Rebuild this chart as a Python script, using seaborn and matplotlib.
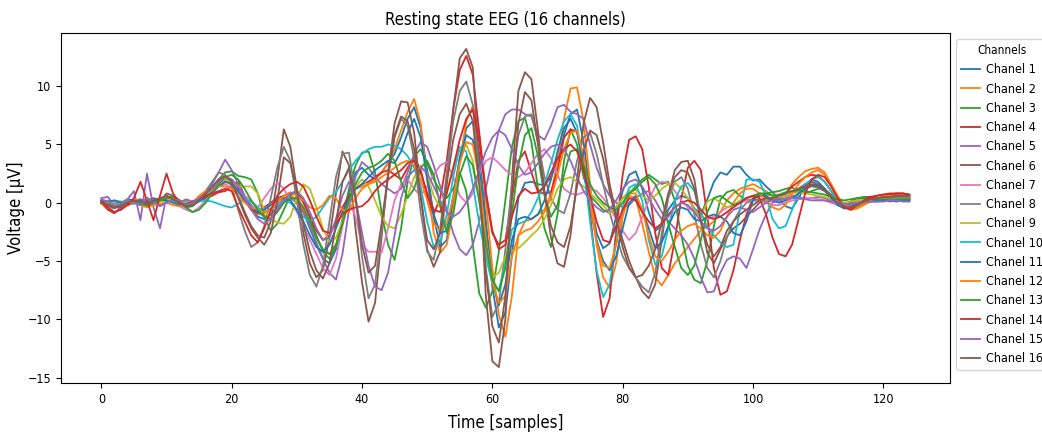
import numpy as np
import pandas as pd
import matplotlib
matplotlib.use("Agg")
import matplotlib.pyplot as plt
import seaborn as sns

plt.rcParams["font.family"] = ["DejaVu Sans"]
plt.rcParams["font.stretch"] = "condensed"

# ---- recorded voltages (µV), one list per channel, samples 0..124 ----
ch1 = [0.2, 0.1, -0.1, 0.0, 0.3, 0.2, -0.2, 0.1, 0.4, 0.2,
       0.5, 0.3, 0.0, -0.3, -0.2, 0.1, 0.4, 1.0, 1.8, 2.2,
       2.0, 1.2, 0.2, -0.6, -1.2, -1.4, -1.0, -0.4, 0.3, 0.6,
       0.2, -0.8, -2.2, -3.6, -4.8, -5.2, -4.0, -1.6, 0.8, 2.6,
       3.0, 2.4, 2.0, 2.6, 3.4, 4.2, 5.6, 7.2, 8.2, 6.4,
       2.8, -1.2, -3.8, -3.2, 0.2, 3.8, 6.4, 7.0, 4.2, -1.5,
       -7.2, -10.7, -9.4, -4.5, 0.4, 1.7, 1.8, 1.6, 1.5, 2.2,
       3.6, 5.8, 7.6, 8.0, 5.2, 0.8, -2.6, -3.9, -3.5, -1.2,
       1.0, 2.4, 2.7, 1.2, -0.8, -2.4, -2.0, -0.6, 0.2, 0.6,
       0.4, -0.5, -1.0, 0.3, 1.8, 2.6, 2.4, 3.1, 3.1, 2.4,
       1.9, 2.0, 1.4, 0.9, 0.3, -0.3, -0.5, 0.4, 1.4, 2.0,
       1.8, 1.2, 0.5, -0.2, -0.4, -0.3, 0.0, 0.1, 0.2, 0.2,
       0.3, 0.2, 0.3, 0.2, 0.3]
ch2 = [0.0, -0.1, 0.2, 0.1, -0.2, 0.0, 0.3, 0.1, -0.1, 0.2,
       0.3, 0.4, 0.2, 0.0, -0.2, 0.3, 0.8, 1.2, 1.6, 1.9,
       1.7, 1.0, 0.1, -0.6, -1.0, -0.9, -0.5, -0.1, 0.4, 0.6,
       0.3, -0.6, -1.8, -3.0, -4.0, -4.4, -3.6, -1.8, 0.2, 1.2,
       1.4, 1.6, 2.0, 2.6, 3.4, 4.6, 6.2, 7.8, 8.9, 6.8,
       2.0, -2.6, -4.3, -3.6, -0.6, 3.4, 7.0, 8.3, 5.8, 0.2,
       -5.6, -9.6, -11.5, -8.0, -2.8, -1.6, -1.4, -1.0, -0.6, 0.8,
       3.6, 7.2, 9.8, 9.9, 7.0, 1.6, -3.6, -6.4, -7.3, -5.2,
       -1.2, 0.6, 0.4, -1.8, -4.2, -6.4, -7.1, -6.2, -5.2, -4.5,
       -3.8, -3.1, -2.4, -2.0, -1.6, -0.8, 0.2, 0.8, 1.2, 1.4,
       1.6, 1.3, 1.0, 0.6, 0.4, 0.8, 1.6, 2.2, 2.7, 2.9,
       3.0, 2.6, 1.6, 0.6, -0.2, -0.6, -0.5, -0.2, 0.1, 0.3,
       0.5, 0.6, 0.7, 0.7, 0.6]
ch3 = [0.1, 0.0, -0.2, -0.1, 0.1, 0.2, 0.0, -0.3, -0.1, 0.3,
       0.4, 0.2, -0.2, -0.4, -0.3, 0.2, 0.6, 1.2, 2.0, 2.6,
       2.7, 2.3, 2.2, 2.0, 0.8, -1.2, -2.4, -1.8, -0.6, 0.6,
       1.0, 0.2, -1.2, -2.8, -4.2, -4.8, -3.8, -1.4, 1.2, 3.2,
       4.3, 4.4, 2.6, -0.8, -3.6, -4.9, -2.2, 1.8, 4.0, 4.6,
       3.4, 2.0, 1.0, 0.4, 1.2, 2.6, 1.0, -3.6, -7.8, -9.0,
       -7.6, -4.2, 0.2, 4.8, 7.0, 7.3, 5.2, 1.2, -2.2, -3.8,
       -1.0, 3.6, 6.3, 5.0, 2.2, 0.6, 0.0, -0.6, -0.9, -0.4,
       0.4, 0.8, 1.4, 2.0, 2.4, 2.0, 1.6, 1.8, 0.2, -2.8,
       -5.4, -6.6, -6.9, -5.0, -2.0, 0.3, 0.9, 1.1, 0.6, 0.2,
       0.3, 0.6, 0.8, 0.9, 1.0, 1.2, 1.3, 1.0, 0.8, 1.0,
       1.2, 1.1, 0.7, 0.2, -0.1, 0.1, 0.4, 0.5, 0.5, 0.4,
       0.4, 0.5, 0.5, 0.4, 0.4]
ch4 = [0.0, -0.6, -0.9, -0.4, -0.2, 0.0, 0.1, 0.2, 0.1, 0.3,
       0.2, 0.4, 0.1, -0.2, 0.0, 0.2, 0.4, 0.6, 0.9, 1.0,
       1.4, 1.8, 0.6, -0.6, -0.9, -0.4, 0.0, 0.4, 0.6, 0.8,
       0.9, 0.0, -1.2, -2.4, -3.2, -2.8, -1.6, -0.4, 0.6, 1.2,
       1.6, 1.8, 2.2, 2.6, 2.8, 2.4, 2.0, 3.0, 3.9, 2.8,
       0.6, -1.0, 0.4, 3.6, 8.0, 11.4, 12.6, 11.0, 6.0, 0.8,
       -2.6, -3.6, -3.2, 0.4, 3.6, 4.4, 2.6, 0.9, 0.8, 0.9,
       2.8, 5.6, 6.3, 6.1, 3.8, -1.0, -6.0, -9.8, -8.2, -2.4,
       2.4, 5.4, 5.7, 4.6, 1.4, -2.6, -5.6, -6.2, -3.2, 0.4,
       3.0, 3.6, 2.8, -1.2, -5.6, -7.9, -7.6, -5.8, -3.2, -1.0,
       0.4, 0.6, 0.5, 0.2, 0.3, 0.8, 1.4, 1.8, 2.2, 2.4,
       2.3, 1.8, 1.0, 0.2, -0.2, 0.0, 0.2, 0.4, 0.5, 0.6,
       0.7, 0.7, 0.8, 0.8, 0.7]
ch5 = [0.4, 0.5, -0.2, -0.6, 0.3, 1.0, -1.5, 2.5, -0.4, -2.2,
       0.6, 0.2, 0.0, 0.3, 0.1, 0.4, 0.8, 1.6, 2.6, 3.7,
       2.8, 1.6, 0.6, -0.2, -0.8, -1.2, -1.0, -0.4, 0.2, 0.4,
       0.0, -0.8, -2.0, -3.4, -4.8, -6.0, -6.6, -4.4, -0.6, 2.2,
       3.5, 3.0, 2.2, 1.6, 1.2, 0.8, 1.2, 2.6, 4.2, 5.2,
       4.8, 3.2, 1.4, -0.6, -2.6, -4.0, -4.5, -3.6, -1.6, 1.2,
       3.8, 6.2, 7.6, 8.0, 8.0, 7.6, 7.4, 5.8, 5.4, 6.6,
       8.2, 8.4, 7.8, 7.6, 7.2, 5.0, 3.0, 1.6, 0.6, 0.0,
       -0.4, -0.2, 0.4, 0.8, 1.0, 0.2, -0.8, -1.6, -2.2, -2.8,
       -3.6, -4.8, -6.4, -7.7, -7.6, -6.0, -4.9, -4.6, -4.8, -5.6,
       -4.0, -2.3, -1.0, 0.0, 0.2, 0.4, 0.6, 0.5, 0.3, 0.4,
       0.5, 0.4, 0.2, -0.1, -0.3, -0.4, -0.2, 0.0, 0.1, 0.1,
       0.2, 0.1, 0.2, 0.2, 0.2]
ch6 = [0.1, 0.0, -0.3, -0.4, -0.1, 0.2, 0.0, 0.4, 0.2, 0.1,
       0.8, 0.6, 0.2, -0.2, 0.0, 0.3, 0.6, 1.0, 1.6, 2.0,
       1.8, 0.6, -0.8, -2.0, -2.8, -3.0, -1.6, 2.0, 6.3, 4.8,
       1.2, -2.6, -5.2, -6.4, -5.8, -3.0, 0.8, 4.4, 3.2, -2.2,
       -6.8, -10.2, -8.6, -3.0, 2.6, 6.8, 8.7, 8.6, 6.0, 0.8,
       -4.0, -5.5, -4.2, 1.8, 8.0, 12.4, 13.2, 11.6, 3.0, -8.0,
       -13.6, -14.1, -10.0, 2.0, 9.6, 11.2, 10.6, 6.2, 1.0, -3.0,
       -5.2, -5.5, -2.8, 2.0, 6.8, 9.0, 8.2, 5.2, 1.6, -1.0,
       -3.2, -5.0, -6.4, -7.6, -8.2, -7.0, -3.2, 0.6, 2.8, 3.5,
       3.6, 2.0, -1.6, -4.3, -5.2, -4.0, -2.9, -2.2, -1.8, -1.2,
       -0.6, 0.0, 0.2, 0.4, 0.5, 0.6, 0.8, 1.2, 1.6, 1.8,
       1.6, 1.2, 0.6, 0.0, -0.4, -0.5, -0.3, 0.0, 0.2, 0.3,
       0.4, 0.5, 0.6, 0.6, 0.5]
ch7 = [0.0, 0.2, 0.1, -0.1, 0.0, 0.2, 0.3, -0.2, 0.0, 0.2,
       0.4, 0.1, -0.3, -0.6, -0.8, -0.4, 0.2, 0.8, 1.4, 1.6,
       1.3, 1.0, 0.6, 0.2, -0.4, 0.4, 1.2, 1.7, 1.2, 0.2,
       -0.8, -2.0, -3.2, -4.4, -5.6, -6.2, -4.8, -2.0, 0.2, -1.2,
       -3.6, -4.2, -4.2, -4.3, -2.2, 0.2, 1.6, 2.0, 1.2, 0.6,
       1.4, 2.4, 3.2, 3.5, 2.2, 0.6, 0.0, 0.8, 2.4, 3.6,
       3.9, 3.4, 2.8, 2.4, 2.2, 2.6, 3.4, 4.2, 4.6, 3.8,
       2.4, 1.2, 0.8, 0.7, 0.9, 1.2, 1.0, 0.4, -0.4, -1.4,
       -2.4, -3.2, -2.6, -1.2, 0.2, 1.4, 1.8, 1.7, 1.0, 0.2,
       -0.4, -0.8, -1.2, -1.4, -1.2, -0.8, -0.4, -0.2, 0.0, 0.2,
       0.2, 0.1, 0.0, -0.2, -0.2, 0.0, 0.2, 0.3, 0.4, 0.4,
       0.3, 0.2, 0.0, -0.2, -0.3, -0.2, 0.0, 0.1, 0.2, 0.2,
       0.2, 0.3, 0.3, 0.2, 0.2]
ch8 = [0.2, -0.3, -0.5, -0.2, 0.0, 0.1, 0.3, 0.0, -0.2, 0.3,
       0.6, 0.2, 0.0, 0.2, -0.2, 0.4, 1.0, 1.8, 2.6, 2.4,
       1.4, -0.6, -2.4, -3.8, -3.4, -2.0, 0.4, 3.0, 4.8, 3.6,
       0.2, -3.6, -6.2, -7.2, -5.4, -1.6, 2.2, 4.2, 4.3, 0.6,
       -4.6, -8.2, -7.0, -2.4, 2.2, 5.6, 7.2, 6.6, 3.8, -0.8,
       -4.2, -4.9, -2.2, 2.6, 7.0, 9.6, 10.4, 8.4, 2.4, -5.6,
       -9.8, -8.6, -4.0, 1.6, 5.8, 7.4, 7.6, 5.2, 2.2, 0.4,
       -0.6, -0.9, 0.8, 3.6, 5.6, 6.0, 4.2, 1.6, -0.8, -2.8,
       -4.6, -5.6, -6.4, -7.2, -7.7, -6.0, -2.6, 0.4, 1.8, 2.2,
       1.2, -1.0, -3.6, -5.6, -6.4, -5.0, -3.0, -1.6, -0.6, 0.0,
       0.2, 0.3, 0.2, 0.2, 0.4, 0.6, 0.8, 1.0, 1.2, 1.4,
       1.3, 1.0, 0.6, 0.2, -0.1, -0.2, 0.0, 0.2, 0.3, 0.3,
       0.4, 0.4, 0.5, 0.5, 0.4]
ch9 = [0.0, 0.1, -0.1, 0.0, 0.2, 0.1, -0.1, 0.0, 0.2, 0.1,
       0.2, 0.3, 0.1, 0.0, 0.1, 0.3, 0.6, 1.0, 1.6, 2.0,
       1.8, 1.4, 1.4, 1.4, 0.8, -0.6, -1.4, -1.7, -1.8, -1.2,
       0.4, 1.6, 1.2, -0.4, -2.2, -3.4, -3.0, -1.6, 0.2, 1.4,
       2.0, 1.4, 0.2, -1.2, -2.0, -2.2, -1.0, 0.6, 2.2, 3.2,
       2.4, 0.6, -0.4, 0.8, 3.0, 4.6, 5.0, 3.6, 0.0, -4.2,
       -6.4, -6.0, -4.6, -4.1, -3.9, -3.4, -2.8, -2.3, -1.4, -0.2,
       1.2, 2.0, 2.2, 1.8, 1.4, 0.8, 0.3, -0.2, -0.9, -0.4,
       0.4, 1.0, 1.1, 0.6, 0.2, 0.6, 1.2, 1.6, 1.7, 1.2,
       0.4, -0.6, -1.2, 0.1, 0.4, 0.0, -0.4, -0.2, 0.2, 0.4,
       0.6, 0.8, 0.7, 0.6, 0.5, 0.6, 0.8, 0.9, 0.8, 0.7,
       0.6, 0.5, 0.3, 0.1, 0.0, 0.1, 0.2, 0.3, 0.3, 0.2,
       0.3, 0.3, 0.3, 0.3, 0.3]
ch10 = [0.1, 0.0, -0.1, 0.1, 0.0, -0.1, 0.1, 0.2, 0.0, -0.2,
        0.1, 0.2, 0.0, -0.1, 0.0, 0.1, 0.2, 0.1, -0.1, -0.3,
        -0.4, -0.1, 0.3, 0.1, -0.4, -0.8, -0.6, -0.2, 0.2, 0.0,
        -0.6, -1.2, -1.6, -1.2, -0.4, 0.4, 0.9, 1.8, 2.8, 3.6,
        4.2, 4.6, 4.8, 4.8, 5.0, 4.9, 4.6, 4.0, 3.0, 1.4,
        -1.6, -3.8, -3.4, -1.0, 2.2, 4.8, 4.4, 1.6, -1.8, -4.6,
        -7.0, -7.5, -5.2, -2.3, -1.8, -1.6, -0.8, 0.4, 1.6, 3.4,
        5.4, 7.0, 7.6, 6.6, 3.2, -1.6, -5.8, -8.1, -7.0, -3.4,
        -0.4, 1.3, 1.6, 0.2, -3.2, -5.3, -4.6, -2.2, 0.2, 1.4,
        1.7, 1.0, -0.8, -2.1, -2.8, -3.4, -3.8, -3.6, -0.6, 2.0,
        2.0, 1.8, 0.6, -1.4, -2.2, -2.0, -0.6, 0.8, 1.6, 2.0,
        2.2, 1.8, 1.0, 0.2, -0.4, -0.6, -0.3, 0.0, 0.1, 0.2,
        0.2, 0.2, 0.3, 0.2, 0.2]
ch11 = [0.0, 0.1, 0.2, 0.0, -0.1, 0.1, 0.2, 0.0, 0.1, 0.3,
        0.2, 0.0, -0.2, -0.1, 0.1, 0.2, 0.5, 0.9, 1.4, 1.8,
        1.6, 1.0, 0.2, -0.4, -0.8, -0.6, -0.2, 0.2, 0.4, 0.2,
        -0.6, -1.6, -2.8, -3.8, -4.2, -3.6, -2.2, -0.8, 0.4, 1.2,
        1.6, 2.2, 2.8, 3.2, 3.6, 3.4, 4.4, 6.0, 7.2, 5.6,
        2.0, -1.0, -2.6, -2.4, 0.6, 3.8, 5.8, 5.4, 2.6, -2.0,
        -6.8, -8.8, -7.0, -3.2, -1.4, -1.2, -1.4, -1.0, 0.2, 2.0,
        4.4, 6.4, 7.2, 6.0, 3.0, -0.4, -3.2, -5.0, -5.8, -4.6,
        -2.2, 0.0, 0.6, -0.6, -2.2, -3.9, -3.4, -2.0, -0.8, -0.4,
        -0.6, -1.4, -1.6, -1.2, -1.0, -1.2, -1.6, -2.6, -2.8, -1.6,
        0.2, 0.8, 0.6, 0.2, 0.0, 0.2, 0.4, 0.8, 1.2, 1.6,
        1.5, 1.1, 0.4, -0.2, -0.5, -0.4, -0.1, 0.1, 0.1, 0.2,
        0.2, 0.2, 0.1, 0.2, 0.2]
ch12 = [-0.1, 0.0, -0.2, -0.3, -0.1, 0.0, -0.2, -0.4, -0.2, -0.1,
        0.0, -0.2, -0.3, -0.2, 0.0, 0.6, 1.0, 1.2, 1.4, 1.4,
        1.2, 0.6, 0.0, -0.4, -0.6, -0.8, -0.6, 0.0, 0.6, 0.9,
        0.6, 0.2, -0.4, -0.6, -0.2, 0.6, 0.4, -0.6, -0.8, 0.4,
        1.2, 1.6, 1.8, 2.2, 2.6, 3.0, 3.4, 3.6, 3.2, 2.0,
        0.2, -1.8, -2.4, -1.8, 0.4, 3.4, 5.2, 5.0, 2.0, -3.0,
        -6.8, -8.6, -8.0, -4.6, -2.8, -2.4, -2.2, -1.6, -0.8, 0.4,
        2.4, 4.6, 6.0, 6.2, 4.0, 0.0, -3.4, -5.4, -5.6, -3.6,
        -0.8, 0.8, 0.8, -0.6, -2.8, -4.6, -5.0, -4.2, -3.2, -2.4,
        -2.0, -1.8, -2.2, -2.8, -3.0, -2.4, -1.2, 0.0, 0.8, 1.2,
        1.2, 0.8, 0.2, -0.4, -0.6, -0.2, 0.8, 1.6, 2.2, 2.6,
        2.8, 2.4, 1.4, 0.4, -0.2, -0.5, -0.4, -0.1, 0.2, 0.4,
        0.5, 0.6, 0.6, 0.7, 0.6]
ch13 = [0.0, -0.1, -0.3, -0.2, 0.0, 0.1, -0.1, -0.2, 0.0, 0.2,
        0.4, 0.6, 0.2, -0.4, -0.8, -0.6, 0.0, 0.8, 1.6, 2.2,
        2.4, 2.0, 1.2, 0.2, -0.6, -1.2, -1.4, -0.8, 0.0, 0.4,
        0.4, -0.4, -1.6, -3.0, -4.0, -4.4, -3.6, -1.8, 0.2, 1.6,
        2.6, 3.0, 3.2, 3.6, 4.2, 3.6, 1.8, 0.4, 1.2, 3.0,
        3.6, 2.4, -0.2, -2.6, -1.0, 2.4, 4.0, 3.2, 0.2, -3.6,
        -6.6, -7.6, -5.6, -1.0, 3.2, 5.8, 6.4, 4.0, 0.6, -1.2,
        -0.2, 2.4, 4.4, 4.6, 3.2, 1.6, 0.6, 0.0, -0.4, -0.6,
        0.0, 0.8, 1.2, 1.8, 2.2, 1.6, 0.4, -1.8, -3.8, -5.6,
        -6.2, -5.4, -3.2, -0.8, 0.4, 0.6, 0.2, -0.2, 0.0, 0.4,
        0.6, 0.8, 0.8, 0.6, 0.7, 0.9, 1.0, 1.1, 1.0, 0.9,
        0.8, 0.7, 0.5, 0.3, 0.2, 0.3, 0.4, 0.4, 0.3, 0.3,
        0.3, 0.3, 0.3, 0.3, 0.3]
ch14 = [0.2, -0.4, -0.8, -0.6, -0.2, 0.4, 1.8, 0.2, -1.5, 0.6,
        2.5, 0.8, 0.0, -0.2, 0.1, 0.3, 0.6, 0.8, 1.0, 1.2,
        1.0, -0.4, -1.6, -2.8, -3.4, -2.2, -0.6, 0.6, 1.2, 1.6,
        1.8, 1.4, 0.2, -1.2, -2.4, -2.6, -1.8, -1.0, -0.6, -0.4,
        -0.3, 0.2, 1.0, 1.6, 2.0, 2.4, 2.8, 3.4, 3.6, 2.6,
        0.8, -0.6, -0.8, 0.8, 3.0, 5.4, 7.2, 8.0, 5.2, 1.0,
        -2.4, -4.0, -3.6, -1.2, 0.6, 1.2, 0.8, 0.9, 1.4, 2.6,
        3.8, 4.6, 5.0, 4.4, 2.8, 0.6, -1.6, -3.2, -3.4, -2.0,
        -0.6, 0.4, 0.2, -0.8, -1.6, -2.2, -1.8, -1.0, -0.4, 0.0,
        0.2, 0.0, -0.6, -1.2, -1.4, -1.2, -0.8, -0.4, 0.0, 0.4,
        0.6, 0.4, -1.0, -3.0, -4.4, -4.6, -3.6, -1.4, 0.8, 2.0,
        2.4, 2.2, 1.4, 0.4, -0.4, -0.6, -0.2, 0.2, 0.4, 0.6,
        0.7, 0.8, 0.8, 0.8, 0.7]
ch15 = [0.3, 0.1, -0.3, -0.1, 0.2, 0.0, -0.2, 0.4, 0.1, -0.3,
        0.0, 0.3, 0.2, -0.2, 0.0, 0.4, 0.8, 1.2, 1.8, 2.2,
        2.0, 1.4, 0.4, -0.6, -1.4, -1.8, -1.4, -0.6, 0.2, 0.8,
        1.0, 0.4, -0.8, -2.2, -3.2, -3.0, -1.4, 0.6, 1.8, 0.4,
        -2.6, -5.4, -7.2, -7.5, -6.0, -2.8, 0.4, 2.2, 2.8, 3.0,
        2.6, 1.4, 0.2, -0.8, -1.2, -0.8, 0.0, 1.2, 2.8, 4.4,
        5.6, 6.2, 5.8, 4.6, 3.2, 2.4, 2.6, 3.4, 4.2, 4.8,
        5.0, 4.6, 3.6, 2.2, 1.0, 0.2, -0.4, -0.8, -0.6, 0.2,
        1.2, 1.8, 2.0, 1.4, 0.4, -0.6, -1.4, -1.2, -0.4, 0.0,
        -0.2, -0.8, -1.6, -2.2, -2.4, -2.0, -1.2, -0.6, -0.4, -0.6,
        -0.8, -0.4, 0.0, 0.2, 0.2, 0.3, 0.4, 0.4, 0.3, 0.2,
        0.2, 0.2, 0.1, 0.0, -0.1, -0.1, 0.0, 0.1, 0.1, 0.1,
        0.1, 0.2, 0.2, 0.1, 0.1]
ch16 = [0.0, -0.2, -0.4, -0.3, 0.0, 0.2, 0.1, -0.1, 0.2, 0.4,
        0.6, 0.3, 0.0, -0.3, -0.2, 0.2, 0.8, 1.4, 2.0, 2.3,
        1.8, 0.4, -1.0, -2.2, -3.0, -3.6, -2.6, 0.2, 3.9, 3.4,
        1.0, -1.8, -4.2, -5.8, -6.5, -5.2, -1.8, 1.8, 3.0, 0.4,
        -3.6, -6.0, -5.4, -1.8, 2.4, 5.8, 7.4, 7.0, 4.6, 0.4,
        -3.2, -4.0, -2.6, 1.6, 5.4, 7.6, 8.5, 7.0, 1.4, -6.0,
        -10.6, -12.0, -8.0, 0.6, 6.8, 9.5, 8.8, 5.0, 0.8, -2.0,
        -3.4, -3.8, -2.0, 1.4, 4.4, 6.2, 5.8, 3.8, 1.0, -1.4,
        -3.8, -5.6, -6.4, -6.2, -5.4, -4.0, -1.6, 0.8, 2.2, 2.8,
        2.6, 1.2, -1.6, -3.6, -4.6, -3.8, -2.4, -1.6, -1.0, -0.6,
        -0.2, 0.2, 0.4, 0.4, 0.6, 0.8, 1.0, 1.2, 1.4, 1.5,
        1.4, 1.0, 0.5, 0.0, -0.3, -0.4, -0.2, 0.1, 0.3, 0.4,
        0.5, 0.5, 0.6, 0.6, 0.6]

channels = [ch1, ch2, ch3, ch4, ch5, ch6, ch7, ch8,
            ch9, ch10, ch11, ch12, ch13, ch14, ch15, ch16]
channel_names = [f"Chanel {i}" for i in range(1, 17)]

# ---- long-form table for seaborn ----
frames = []
for name, values in zip(channel_names, channels):
    frames.append(pd.DataFrame({"sample": np.arange(len(values)),
                                "voltage": values,
                                "channel": name}))
eeg = pd.concat(frames, ignore_index=True)

# tab10 colours cycle again after the tenth channel
base = sns.color_palette("tab10", 10)
palette = [base[i % 10] for i in range(16)]

fig = plt.figure(figsize=(10.42, 4.34), dpi=100)
ax = fig.add_axes([0.0585, 0.1175, 0.853, 0.8065])

sns.lineplot(data=eeg, x="sample", y="voltage", hue="channel",
             hue_order=channel_names, palette=palette,
             errorbar=None, linewidth=1.3, ax=ax)

ax.set_title("Resting state EEG (16 channels)", fontsize=12)
ax.set_xlabel("Time [samples]", fontsize=12, labelpad=6)
ax.set_ylabel("Voltage [µV]", fontsize=12, labelpad=2)
ax.set_xticks([0, 20, 40, 60, 80, 100, 120])
ax.set_yticks([-15, -10, -5, 0, 5, 10])
ax.tick_params(labelsize=9)

ax.legend(title="Channels", loc="upper left", bbox_to_anchor=(1.0, 1.0),
          fontsize=9, title_fontsize=8.5, handlelength=1.5,
          handletextpad=0.5, borderpad=0.4)

fig.savefig("out.png", dpi=100)
